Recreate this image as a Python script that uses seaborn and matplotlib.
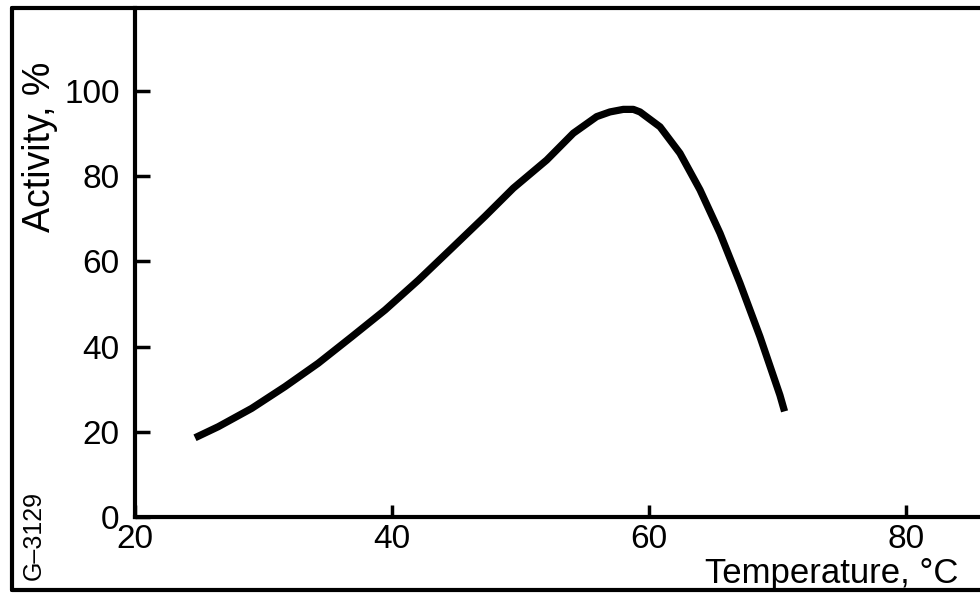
import matplotlib
matplotlib.use("Agg")
import matplotlib.pyplot as plt
from matplotlib.lines import Line2D
import seaborn as sns
import pandas as pd

# Enzyme activity versus temperature
temperature_c = [24.67, 26.48, 29.08, 31.67, 34.26, 36.86, 39.46, 42.05,
                 44.65, 47.24, 49.44, 52.04, 54.11, 55.93, 56.96, 58.00,
                 58.78, 59.30, 60.86, 62.41, 63.97, 65.53, 67.08, 68.64,
                 70.19, 70.55]
activity_pct = [18.6, 21.2, 25.5, 30.6, 36.1, 42.3, 48.6, 55.6,
                63.1, 70.6, 77.2, 83.8, 90.1, 94.0, 95.1, 95.7,
                95.7, 95.1, 91.6, 85.4, 76.8, 66.6, 54.9, 42.3,
                28.6, 24.8]

x_ticks = [20, 40, 60, 80]
y_ticks = [0, 20, 40, 60, 80, 100]

df = pd.DataFrame({"Temperature": temperature_c, "Activity": activity_pct})

sns.set_theme(style="white")
plt.rcParams["font.family"] = ["Liberation Sans", "DejaVu Sans"]
plt.rcParams["text.color"] = "black"

W, H = 980, 594
fig = plt.figure(figsize=(W / 100, H / 100), dpi=100)
ax = fig.add_axes([135 / W, (H - 517) / H, (W - 135) / W, (517 - 8) / H])

sns.lineplot(data=df, x="Temperature", y="Activity", ax=ax, color="black",
             linewidth=5.2, solid_capstyle="butt", solid_joinstyle="round")

ax.set_xlim(20, 85.76)
ax.set_ylim(0, 119.5)
ax.set_xticks(x_ticks)
ax.set_yticks(y_ticks)
ax.set_xlabel("")
ax.set_ylabel("")

for side in ("top", "right"):
    ax.spines[side].set_visible(False)
for side in ("left", "bottom"):
    ax.spines[side].set_linewidth(3)
    ax.spines[side].set_color("black")

ax.tick_params(axis="y", direction="in", length=11, width=2.5, pad=11,
               labelsize=24, colors="black", left=True)
ax.tick_params(axis="x", direction="in", length=9, width=2.5, pad=5,
               labelsize=24, colors="black", bottom=True)

# Axis titles placed as in the printed figure
fig.text(40 / W, 1 - 147 / H, "Activity, %", rotation=90, fontsize=27,
         ha="center", va="center", color="black")
fig.text(958 / W, 1 - 583 / H, "Temperature, °C", fontsize=25,
         ha="right", va="baseline", color="black")
fig.text(34 / W, 1 - 535 / H, "G\u20133129", rotation=90, fontsize=18,
         ha="center", va="center", color="black")

# Outer frame (open on the right)
lw = 3
fig.add_artist(Line2D([12 / W, 1.0], [1 - 8 / H, 1 - 8 / H],
                      transform=fig.transFigure, color="black", lw=lw))
fig.add_artist(Line2D([12 / W, 12 / W], [1 - 8 / H, 1 - 590 / H],
                      transform=fig.transFigure, color="black", lw=lw))
fig.add_artist(Line2D([12 / W, 1.0], [1 - 590 / H, 1 - 590 / H],
                      transform=fig.transFigure, color="black", lw=lw))

fig.savefig("out.png", dpi=100, facecolor="white")
